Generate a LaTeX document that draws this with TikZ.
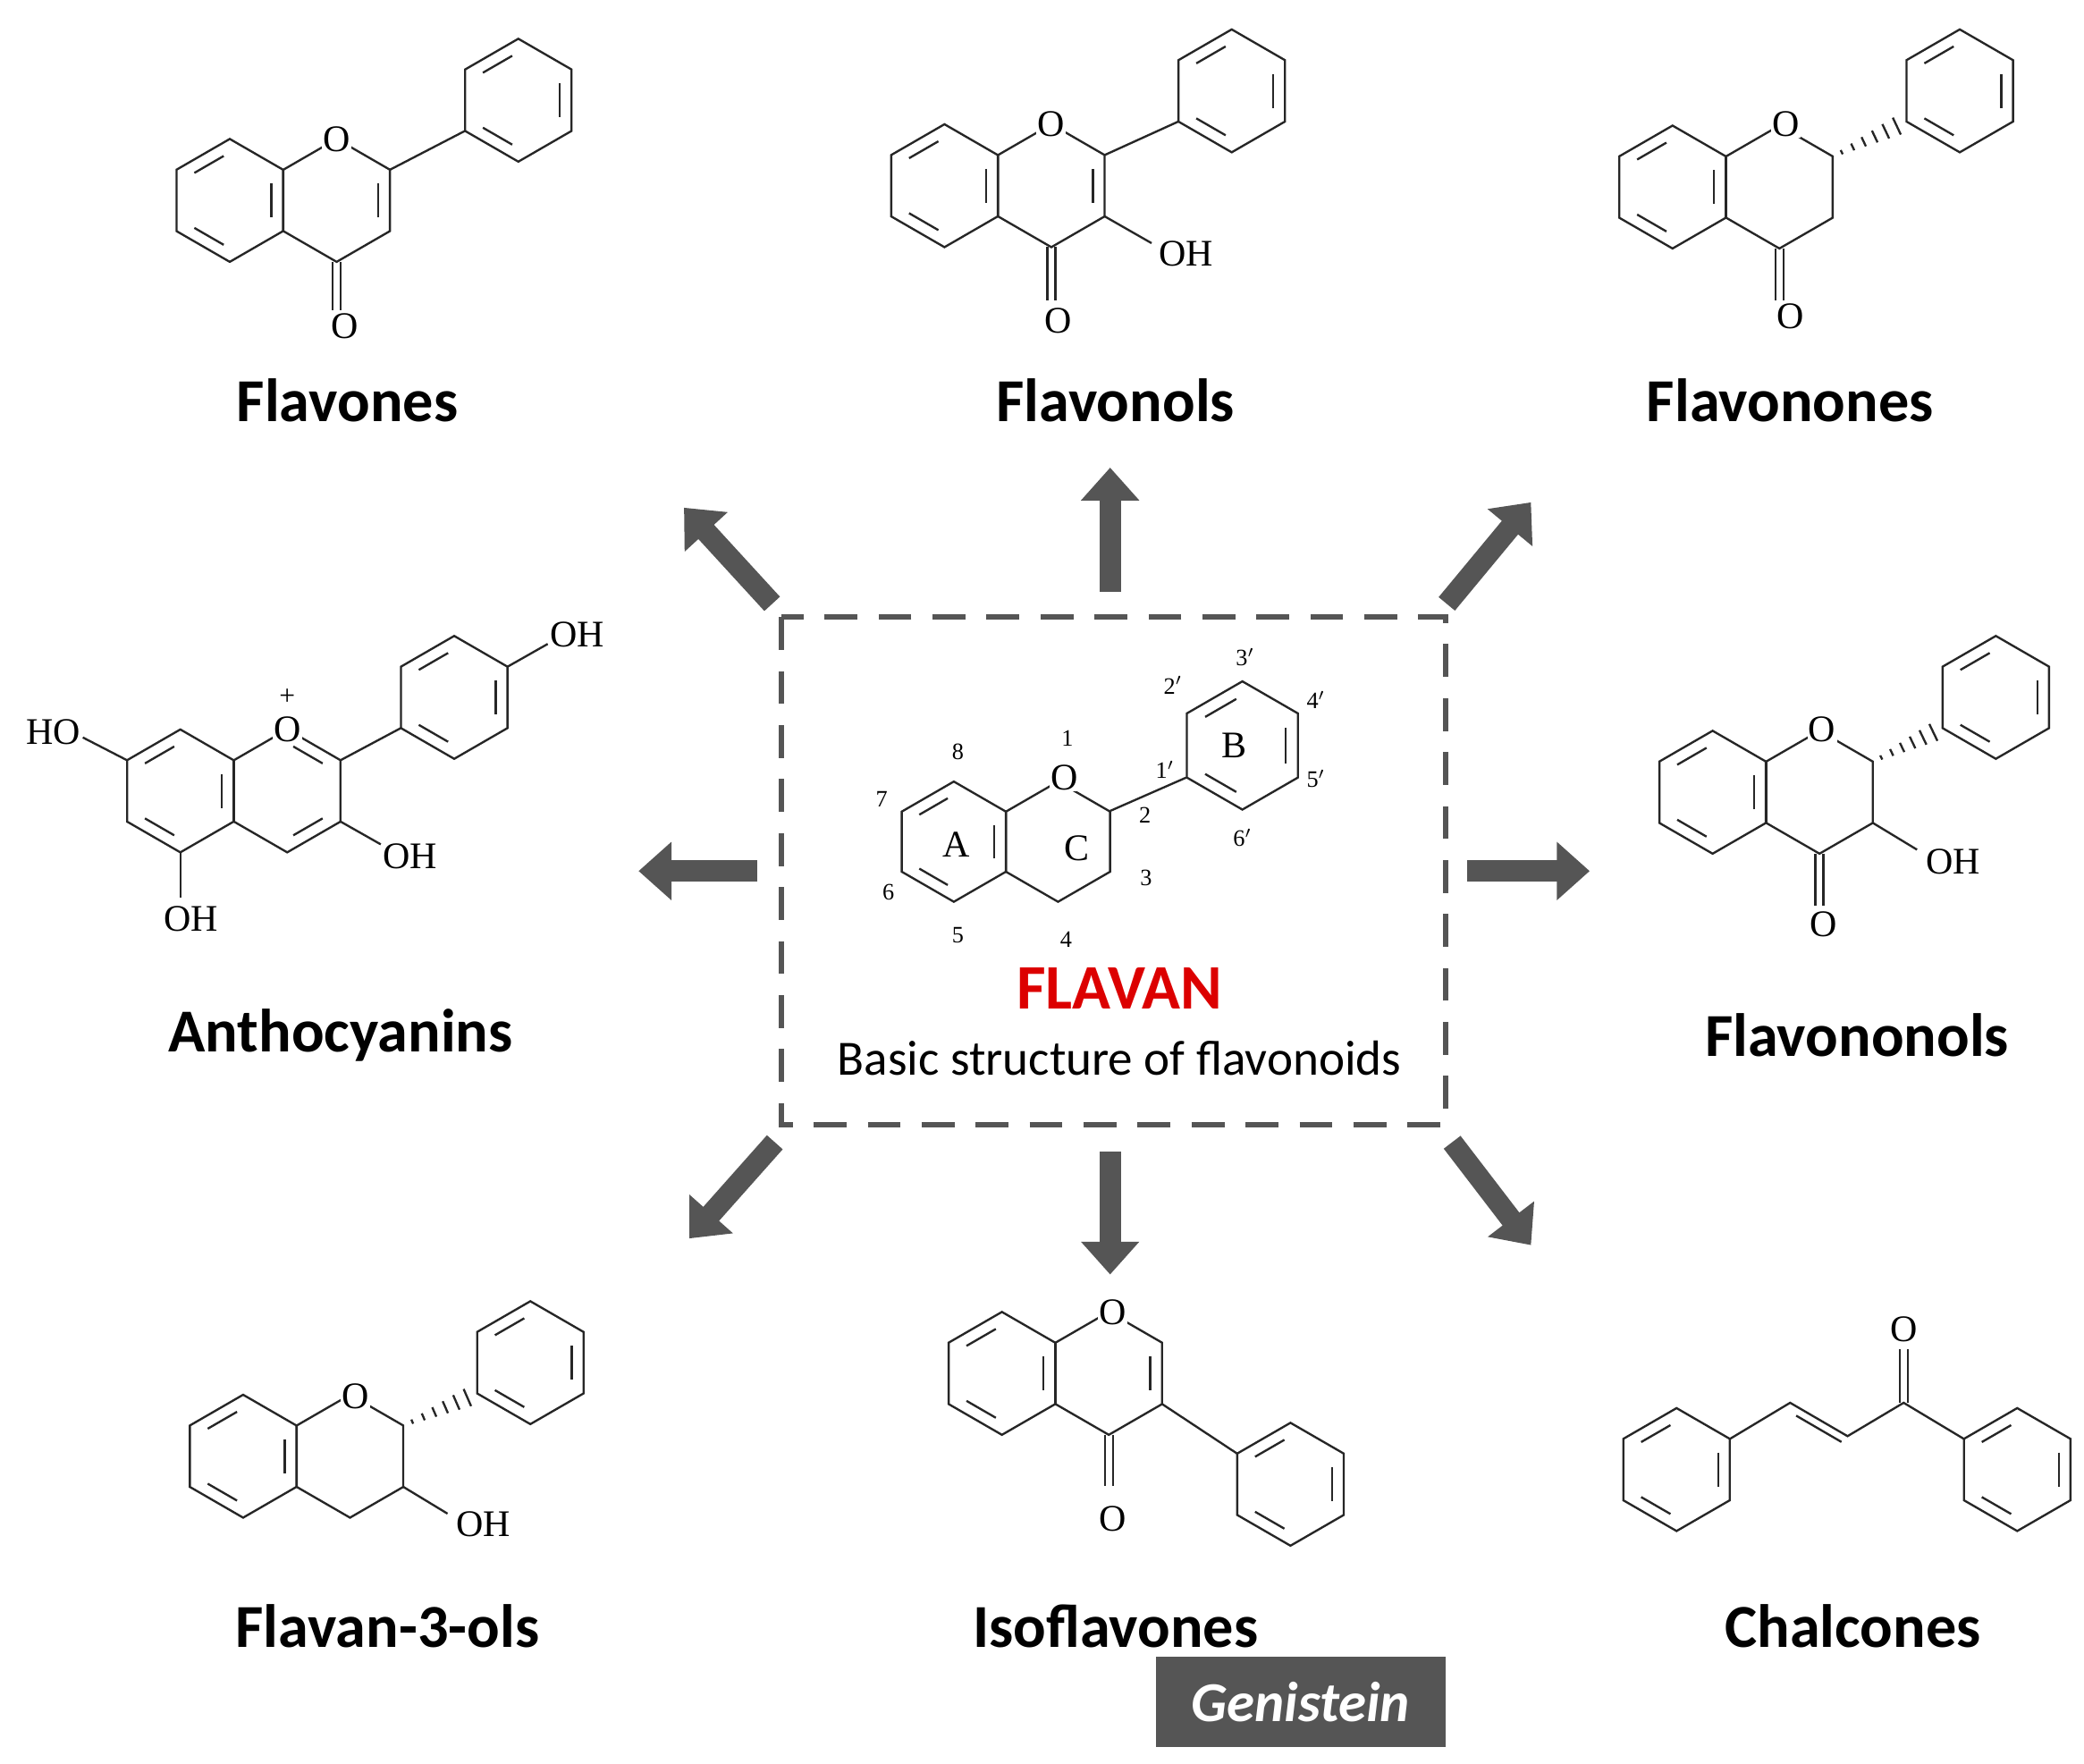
\documentclass[tikz,border=0pt]{standalone}
\usepackage{fontspec}
\setmainfont{Liberation Serif}
\newfontfamily\calfont{Carlito}
\usetikzlibrary{calc,arrows.meta}
\definecolor{ag}{HTML}{555555}
\tikzset{
 bond/.style={line width=0.9pt,draw=black!85},
 atm/.style={fill=white,inner sep=0.5pt,font=\fontsize{16}{16}\selectfont},
 num/.style={inner sep=0.5pt,font=\fontsize{10}{10}\selectfont},
 title/.style={font=\calfont\bfseries\fontsize{26}{26}\selectfont},
 fat/.style={line width=9pt,draw=ag,-{Triangle[length=14pt,width=24pt]}}
}
\newcommand\hexr[3]{\draw[bond] (#1,#2)+(30:#3)--+(90:#3)--+(150:#3)--+(210:#3)--+(270:#3)--+(330:#3)--cycle;}
\newcommand\ib[5]{\draw[bond,shorten <=3pt,shorten >=3pt] ($(#1,#2)+(#4:{0.78*#3})$) -- ($(#1,#2)+(#5:{0.78*#3})$);}
\newcommand\benz[3]{\hexr{#1}{#2}{#3}\ib{#1}{#2}{#3}{210}{270}\ib{#1}{#2}{#3}{330}{30}\ib{#1}{#2}{#3}{90}{150}}
\newcommand\hashb[4]{\foreach \t in {0.12,0.27,...,0.95}{\pgfmathsetmacro\hw{0.5+4*\t}\coordinate (hp) at ($(#1,#2)!\t!(#3,#4)$);\draw[bond] ($(hp)!\hw pt!90:(#3,#4)$) -- ($(hp)!\hw pt!-90:(#3,#4)$);}}
\newcommand\dbv[4]{\draw[bond] (#1-3,#2)--(#1-3,#3);\draw[bond] (#1+3,#2)--(#1+3,#3);}
\begin{document}
\begin{tikzpicture}[x=0.02cm,y=-0.02cm]
\useasboundingbox (0,0) rectangle (1560,1320);
% Flavones
\benz{172}{150}{46}\hexr{252}{150}{46}\ib{252}{150}{46}{330}{30}
\draw[bond] (292,127)--(348,98); \benz{388}{75}{46}
\dbv{252}{196}{232}{}
\node[atm] at (252,104) {O}; \node[atm] at (258,244) {O};
\node[title] (t1) at (260,300) {Flavones};
% Flavonols
\benz{707}{139}{46}\hexr{787}{139}{46}\ib{787}{139}{46}{330}{30}
\draw[bond] (827,116)--(882,91); \benz{922}{68}{46}
\draw[bond] (827,162)--(862,182);
\dbv{787}{185}{225}{}
\node[atm] at (787,93) {O}; \node[atm] at (792,240) {O}; \node[atm] at (888,190) {OH};
\node[title] (t2) at (835,300) {Flavonols};
% Flavonones
\benz{1252}{140}{46}\hexr{1332}{140}{46}
\hashb{1372}{117}{1427}{91} \benz{1467}{68}{46}
\dbv{1332}{186}{225}{}
\node[atm] at (1337,93) {O}; \node[atm] at (1340,237) {O};
\node[title] (t3) at (1340,300) {Flavonones};
% Anthocyanins
\hexr{135}{592}{46}\ib{135}{592}{46}{210}{270}\ib{135}{592}{46}{90}{150}\ib{135}{592}{46}{330}{30}
\hexr{215}{592}{46}\ib{215}{592}{46}{270}{330}\ib{215}{592}{46}{30}{90}
\draw[bond] (95,569)--(62,552); \draw[bond] (135,638)--(135,672);
\draw[bond] (255,615)--(285,632); \draw[bond] (255,569)--(300,545);
\benz{340}{522}{46}\draw[bond] (380,499)--(410,482);
\node[atm] at (215,546) {O}; \node[atm,font=\fontsize{12}{12}\selectfont,fill=none] at (215,522) {+};
\node[atm] at (40,548) {HO}; \node[atm] at (143,688) {OH}; \node[atm] at (307,641) {OH}; \node[atm] at (432,475) {OH};
\node[title] (t4) at (255,775) {Anthocyanins};
% Center flavan
\draw[line width=2.2pt,draw=ag,dash pattern=on 14pt off 9pt] (585,462) rectangle (1082,842);
\hexr{714}{630}{45}\ib{714}{630}{45}{210}{270}\ib{714}{630}{45}{330}{30}\ib{714}{630}{45}{90}{150}
\hexr{792}{630}{45}
\draw[bond] (831,607)--(888,582); \benz{930}{558}{48}
\node[atm] at (797,582) {O};
\node[atm,fill=none] at (716,632) {A}; \node[atm,fill=none] at (806,635) {C}; \node[atm,fill=none] at (924,558) {B};
\foreach \p/\l in {{799,553}/1,{857,610}/2,{858,657}/3,{798,703}/4,{717,700}/5,{665,668}/6,{660,598}/7,{717,563}/8,{872,576}/1$'$,{878,513}/2$'$,{932,492}/3$'$,{985,524}/4$'$,{985,583}/5$'$,{930,627}/6$'$}
 \node[num] at (\p) {\l};
\node[font=\calfont\bfseries\fontsize{27}{27}\selectfont,text={rgb,255:red,220;green,0;blue,0}] (fl) at (838,740) {FLAVAN};
\node[font=\calfont\fontsize{21}{21}\selectfont] (bs) at (838,792) {Basic structure of flavonoids};
% Flavononols
\benz{1282}{593}{46}\hexr{1362}{593}{46}
\hashb{1402}{570}{1454}{545} \benz{1494}{522}{46}
\draw[bond] (1402,616)--(1435,636);
\dbv{1362}{639}{678}{}
\node[atm] at (1364,546) {O}; \node[atm] at (1365,692) {O}; \node[atm] at (1462,645) {OH};
\node[title] (t6) at (1390,775) {Flavononols};
% Flavan-3-ols
\benz{182}{1090}{46}\hexr{262}{1090}{46}
\hashb{302}{1067}{357}{1043} \benz{397}{1020}{46}
\draw[bond] (302,1113)--(335,1133);
\node[atm] at (266,1045) {O}; \node[atm] at (362,1141) {OH};
\node[title] (t7) at (290,1217) {Flavan-3-ols};
% Isoflavones
\benz{750}{1028}{46}\hexr{830}{1028}{46}\ib{830}{1028}{46}{330}{30}
\draw[bond] (870,1051)--(926,1088); \benz{966}{1111}{46}
\dbv{830}{1074}{1112}{}
\node[atm] at (833,982) {O}; \node[atm] at (833,1137) {O};
\node[title] (t8) at (835,1217) {Isoflavones};
\node[fill=ag,minimum width=217*0.02cm,minimum height=68*0.02cm,text=white,font=\calfont\bfseries\itshape\fontsize{24}{24}\selectfont] (gen) at (973.5,1274) {Genistein};
% Chalcones
\benz{1255}{1100}{46}\benz{1510}{1100}{46}
\draw[bond] (1295,1077)--(1340,1050)--(1383,1075)--(1425,1050)--(1470,1077);
\draw[bond,shorten <=3pt,shorten >=3pt] ($(1340,1050)+(0,7)$)--($(1383,1075)+(0,7)$);
\dbv{1425}{1050}{1010}{}
\node[atm] at (1425,995) {O};
\node[title] (t9) at (1387,1217) {Chalcones};
% arrows
\coordinate (a1) at (578,452); \coordinate (b1) at (512,380);
\coordinate (a2) at (831,443); \coordinate (b2) at (831,350);
\coordinate (a3) at (1083,452); \coordinate (b3) at (1146,376);
\coordinate (a4) at (567,652); \coordinate (b4) at (478,652);
\coordinate (a5) at (1098,652); \coordinate (b5) at (1190,652);
\coordinate (a6) at (580,855); \coordinate (b6) at (516,927);
\coordinate (a7) at (831,862); \coordinate (b7) at (831,954);
\coordinate (a8) at (1087,855); \coordinate (b8) at (1146,932);
\foreach \i in {1,...,8} \draw[fat] (a\i)--(b\i);
\end{tikzpicture}
\end{document}
